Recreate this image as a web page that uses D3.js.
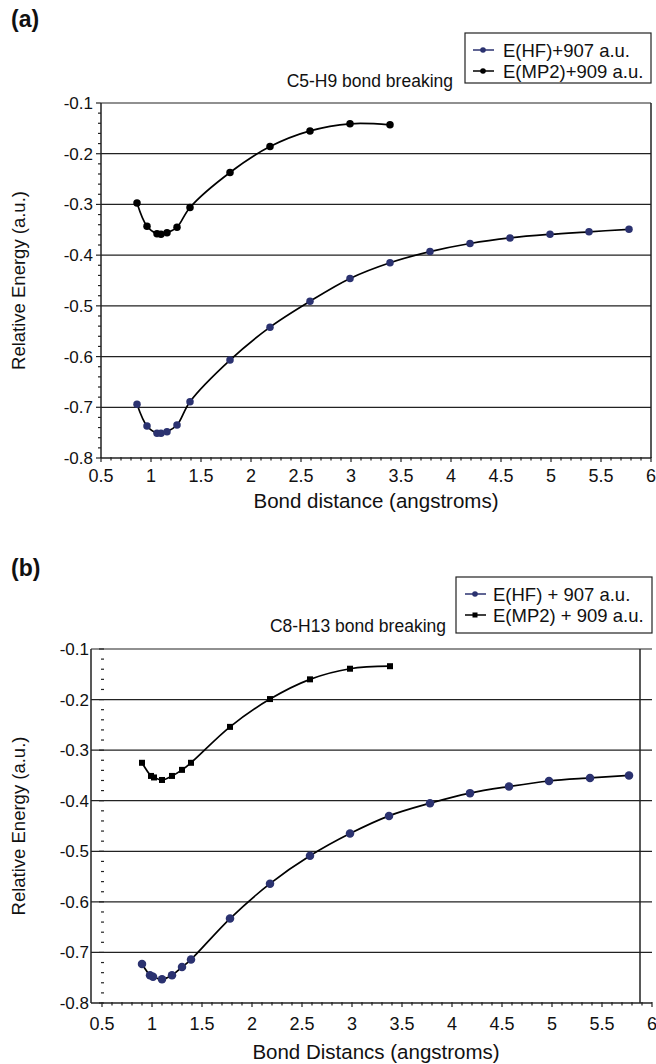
<!DOCTYPE html>
<html>
<head>
<meta charset="utf-8">
<script src="https://cdn.jsdelivr.net/npm/d3@7"></script>
<style>
  body { margin: 0; background: #fff; }
  text { font-family: "Liberation Sans", Arial, sans-serif; fill: #111; }
</style>
</head>
<body>
<div id="main"></div>
<script>
// tick values shared by both panels
const xTicks = [0.5, 1, 1.5, 2, 2.5, 3, 3.5, 4, 4.5, 5, 5.5, 6];
const yTicks = [-0.8, -0.7, -0.6, -0.5, -0.4, -0.3, -0.2, -0.1];

// panel (a) C5-H9
const aHFx = [0.86, 0.96, 1.06, 1.10, 1.16, 1.26, 1.39, 1.79, 2.19, 2.59, 2.99, 3.39, 3.79, 4.19, 4.59, 4.99, 5.38, 5.78];
const aHFy = [-0.694, -0.737, -0.751, -0.751, -0.748, -0.735, -0.689, -0.607, -0.542, -0.491, -0.446, -0.415, -0.393, -0.377, -0.366, -0.359, -0.354, -0.349];
const aMPx = [0.86, 0.96, 1.06, 1.10, 1.16, 1.26, 1.39, 1.79, 2.19, 2.59, 2.99, 3.39];
const aMPy = [-0.297, -0.343, -0.358, -0.359, -0.356, -0.345, -0.306, -0.237, -0.186, -0.155, -0.141, -0.143];

// panel (b) C8-H13
const bHFx = [0.90, 0.98, 1.01, 1.10, 1.20, 1.30, 1.39, 1.78, 2.18, 2.58, 2.98, 3.37, 3.78, 4.18, 4.57, 4.97, 5.38, 5.77];
const bHFy = [-0.723, -0.745, -0.748, -0.753, -0.745, -0.729, -0.714, -0.633, -0.564, -0.509, -0.465, -0.430, -0.405, -0.385, -0.372, -0.361, -0.355, -0.350];
const bMPx = [0.90, 0.99, 1.02, 1.10, 1.20, 1.30, 1.39, 1.78, 2.18, 2.58, 2.98, 3.38];
const bMPy = [-0.325, -0.351, -0.354, -0.359, -0.351, -0.339, -0.325, -0.254, -0.199, -0.160, -0.139, -0.134];

const navy = "#2b3270";

const svg = d3.select("#main").append("svg")
  .attr("width", 656).attr("height", 1064);

function zip(xs, ys) { return xs.map((x, i) => [x, ys[i]]); }

function drawPanel(p) {
  const x = d3.scaleLinear().domain([0.5, 6]).range([p.x0, p.x1]);
  const y = d3.scaleLinear().domain([-0.8, -0.1]).range([p.y0, p.y1]);
  const g = svg.append("g");

  // gridlines
  g.selectAll(".grid").data(yTicks.slice(1)).enter().append("line")
    .attr("x1", p.axisX).attr("x2", p.gridRight)
    .attr("y1", d => y(d)).attr("y2", d => y(d))
    .attr("stroke", "#222").attr("stroke-width", 1.2);

  // frame lines
  g.append("line").attr("x1", p.axisX).attr("x2", p.axisX)
    .attr("y1", y(-0.1)).attr("y2", y(-0.8)).attr("stroke", "#222").attr("stroke-width", 1.5);
  g.append("line").attr("x1", p.frameRight).attr("x2", p.frameRight)
    .attr("y1", y(-0.1)).attr("y2", y(-0.8)).attr("stroke", "#222").attr("stroke-width", 1.5);
  g.append("line").attr("x1", p.axisX).attr("x2", x(6))
    .attr("y1", y(-0.8)).attr("y2", y(-0.8)).attr("stroke", "#222").attr("stroke-width", 1.5);

  // y minor ticks
  const yMinor = d3.range(-80, -9, 2).map(v => v / 100);
  g.selectAll(".ymin").data(yMinor).enter().append("line")
    .attr("x1", d => p.yTickX - (Math.round(d * 100) % 10 === 0 ? 5 : 3))
    .attr("x2", p.yTickX)
    .attr("y1", d => y(d)).attr("y2", d => y(d))
    .attr("stroke", "#222").attr("stroke-width", 1.2);

  // x minor ticks
  const xMinor = d3.range(5, 61, 1).map(v => v / 10);
  g.selectAll(".xmin").data(xMinor).enter().append("line")
    .attr("x1", d => x(d)).attr("x2", d => x(d))
    .attr("y1", y(-0.8) - 1).attr("y2", d => y(-0.8) + (Math.round(d * 10) % 5 === 0 ? 4 : 2.5))
    .attr("stroke", "#222").attr("stroke-width", 1.2);

  // tick labels
  g.selectAll(".yl").data(yTicks).enter().append("text")
    .attr("x", p.yLabelX).attr("y", d => y(d) + 6)
    .attr("text-anchor", "end").attr("font-size", 17)
    .text(d => d.toFixed(1));
  g.selectAll(".xl").data(xTicks).enter().append("text")
    .attr("x", d => x(d)).attr("y", p.xLabelY)
    .attr("text-anchor", "middle").attr("font-size", 18)
    .text(d => d);

  // axis titles
  g.append("text").attr("transform", `translate(${p.yTitleX},${(y(-0.1) + y(-0.8)) / 2}) rotate(-90)`)
    .attr("text-anchor", "middle").attr("font-size", 18.5).text("Relative Energy (a.u.)");
  g.append("text").attr("x", 376).attr("y", p.xTitleY)
    .attr("text-anchor", "middle").attr("font-size", 20.5).text(p.xTitle);

  // panel label + chart title
  g.append("text").attr("x", 11).attr("y", p.tagY)
    .attr("font-size", 23).attr("font-weight", "bold").text(p.tag);
  g.append("text").attr("x", p.titleRight).attr("y", p.titleY)
    .attr("text-anchor", "end").attr("font-size", 17.5).text(p.title);

  // series lines
  const line = d3.line().x(d => x(d[0])).y(d => y(d[1])).curve(d3.curveCatmullRom.alpha(0.5));
  p.series.forEach(s => {
    g.append("path").datum(s.pts).attr("d", line)
      .attr("fill", "none").attr("stroke", "#000").attr("stroke-width", 1.7);
  });
  p.series.forEach(s => {
    if (s.shape === "square") {
      g.selectAll(null).data(s.pts).enter().append("rect")
        .attr("x", d => x(d[0]) - s.size / 2).attr("y", d => y(d[1]) - s.size / 2)
        .attr("width", s.size).attr("height", s.size).attr("fill", s.color);
    } else {
      g.selectAll(null).data(s.pts).enter().append("circle")
        .attr("cx", d => x(d[0])).attr("cy", d => y(d[1])).attr("r", s.size / 2)
        .attr("fill", s.color);
    }
  });

  // legend
  const L = p.legend;
  g.append("rect").attr("x", L.x).attr("y", L.y).attr("width", L.w).attr("height", L.h)
    .attr("fill", "#fff").attr("stroke", "#222").attr("stroke-width", 1.2);
  p.series.forEach((s, i) => {
    const cy = L.y + L.row0 + i * L.dy;
    g.append("line").attr("x1", L.x + L.sym0).attr("x2", L.x + L.sym0 + 21).attr("y1", cy).attr("y2", cy)
      .attr("stroke", s.color).attr("stroke-width", 1.5);
    const mx = L.x + L.sym0 + 10;
    if (s.shape === "square") {
      g.append("rect").attr("x", mx - 2.5).attr("y", cy - 2.5).attr("width", 5).attr("height", 5).attr("fill", s.color);
    } else {
      g.append("circle").attr("cx", mx).attr("cy", cy).attr("r", 2.8).attr("fill", s.color);
    }
    g.append("text").attr("x", L.x + L.text0).attr("y", cy + 6.5).attr("font-size", 18.5).text(s.label);
  });
}

drawPanel({
  x0: 101, x1: 651, y0: 458, y1: 103,
  axisX: 101, yTickX: 101, frameRight: 651, gridRight: 651,
  yLabelX: 93, yTitleX: 25, xLabelY: 482, xTitleY: 508,
  tag: "(a)", tagY: 27, title: "C5-H9 bond breaking", titleRight: 453, titleY: 87,
  xTitle: "Bond distance (angstroms)",
  legend: { x: 465, y: 33, w: 186, h: 50, row0: 17, dy: 21, sym0: 8, text0: 38 },
  series: [
    { label: "E(HF)+907 a.u.", pts: zip(aHFx, aHFy), color: navy, shape: "circle", size: 7.5 },
    { label: "E(MP2)+909 a.u.", pts: zip(aMPx, aMPy), color: "#000", shape: "circle", size: 7.5 }
  ]
});

drawPanel({
  x0: 102, x1: 652, y0: 1003, y1: 649,
  axisX: 91, yTickX: 104, frameRight: 640, gridRight: 652,
  yLabelX: 89, yTitleX: 25, xLabelY: 1030, xTitleY: 1059,
  tag: "(b)", tagY: 576, title: "C8-H13 bond breaking", titleRight: 446, titleY: 632,
  xTitle: "Bond Distancs (angstroms)",
  legend: { x: 456, y: 577, w: 196, h: 56, row0: 17, dy: 21, sym0: 9, text0: 37 },
  series: [
    { label: "E(HF) + 907 a.u.", pts: zip(bHFx, bHFy), color: navy, shape: "circle", size: 8.5 },
    { label: "E(MP2) + 909 a.u.", pts: zip(bMPx, bMPy), color: "#000", shape: "square", size: 6 }
  ]
});
</script>
</body>
</html>
